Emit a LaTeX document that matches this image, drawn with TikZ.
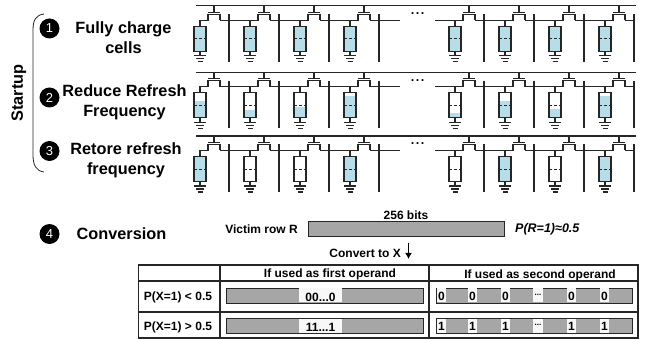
\documentclass[tikz,border=0pt]{standalone}
\usepackage{fontspec}
\usetikzlibrary{arrows.meta}
\setmainfont{Liberation Sans}
\definecolor{cellblue}{RGB}{183,221,232}
\definecolor{bargray}{RGB}{166,166,166}
\tikzset{
  wire/.style={line width=1.2pt,black!85},
  capbox/.style={line width=1.2pt,black!85},
  lab/.style={font=\bfseries\fontsize{16.3}{20}\selectfont,align=center,inner sep=0pt},
  small/.style={font=\bfseries\fontsize{12}{14}\selectfont,inner sep=0pt},
  bullet/.style={circle,fill=black,text=white,inner sep=0pt,minimum size=20pt,font=\fontsize{13}{13}\selectfont},
  bar/.style={draw=black!85,fill=bargray,line width=0.9pt},
  grid/.style={line width=1.1pt,black!85},
}
\newcommand{\rowcell}[3]{%
  \begin{scope}[shift={(#1,#2)}]
    \ifdim #3pt<25pt \fill[cellblue] (-6,{20.5+#3}) rectangle (6,45.5);\fi
    \draw[capbox] (-6,20.5) rectangle (6,45.5);
    \draw[wire,densely dashed,line width=0.9pt] (-6,33) -- (6,33);
    \draw[wire] (0,20.5) -- (0,14.5) -- (8,14.5) -- (8,8.5) -- (20,8.5) -- (20,14.5);
    \draw[wire] (8,6.5) -- (20,6.5);
    \draw[wire] (14,0) -- (14,6.5);
    \draw[wire] (29,8.5) -- (29,56);
    \draw[wire] (0,45.5) -- (0,50);
    \draw[wire] (-6,50) -- (6,50);
    \draw[wire] (-4,53) -- (4,53);
    \draw[wire] (-2.5,56) -- (2.5,56);
  \end{scope}}
\begin{document}
\begin{tikzpicture}[x=1pt,y=-1pt]
\useasboundingbox (0,0) rectangle (651,339);
\fill[white] (0,0) rectangle (651,339);
\foreach \ry/\a/\b/\c/\d/\e/\f/\g/\h in {
  5.7/0/0/0/0/0/0/0/0,
  72.2/8/17/14/3/20/8/16.5/3,
  136/0/99/99/0/99/0/99/0}{
  \draw[wire] (196,\ry) -- (635.5,\ry);
  \draw[wire] (220,\ry+14.5) -- (250,\ry+14.5);
  \draw[wire] (270,\ry+14.5) -- (300,\ry+14.5);
  \draw[wire] (320,\ry+14.5) -- (350,\ry+14.5);
  \draw[wire] (370,\ry+14.5) -- (400,\ry+14.5);
  \draw[wire] (435,\ry+14.5) -- (455,\ry+14.5);
  \draw[wire] (475,\ry+14.5) -- (505,\ry+14.5);
  \draw[wire] (525,\ry+14.5) -- (555,\ry+14.5);
  \draw[wire] (575,\ry+14.5) -- (605,\ry+14.5);
  \draw[wire] (625,\ry+14.5) -- (634.5,\ry+14.5);
  \node[inner sep=0pt,anchor=base,font=\fontsize{18}{18}\selectfont] (dots) at (417.5,\ry+9) {...};
  \rowcell{200}{\ry}{\a}
  \rowcell{250}{\ry}{\b}
  \rowcell{300}{\ry}{\c}
  \rowcell{350}{\ry}{\d}
  \rowcell{455}{\ry}{\e}
  \rowcell{505}{\ry}{\f}
  \rowcell{555}{\ry}{\g}
  \rowcell{605}{\ry}{\h}
}
\node[font=\bfseries\fontsize{16.3}{20}\selectfont,inner sep=0pt,rotate=90] (st) at (19,93) {Startup};
\draw[line width=0.8pt,black!85] (44,14) .. controls (36,15) and (33,20) .. (33,30) -- (33,155) .. controls (33,165) and (36,171) .. (44,172);
\node[bullet] (b1) at (49.5,28.5) {1};
\node[bullet] (b2) at (49.5,97.5) {2};
\node[bullet] (b3) at (49.5,151) {3};
\node[bullet] (b4) at (49.5,234) {4};
\node[lab] (t1) at (123.5,38) {Fully charge\\cells};
\node[lab] (t2) at (124.5,102) {Reduce Refresh\\Frequency};
\node[lab] (t3) at (126,160.5) {Retore refresh\\frequency};
\node[lab] (t4) at (121.5,234) {Conversion};
\node[small,anchor=east] (vr) at (298,229.5) {Victim row R};
\node[bar,minimum width=196pt,minimum height=15pt,inner sep=0pt] (vb) at (406,228.5) {};
\node[small] (bits) at (406,215.5) {256 bits};
\node[font=\bfseries\itshape\fontsize{12.5}{14}\selectfont,inner sep=0pt,anchor=west] (pr) at (515,229) {P(R=1)≈0.5};
\node[small,anchor=east] (cv) at (401,253) {Convert to X};
\coordinate (a0) at (408.5,243);
\coordinate (a1) at (408.5,259);
\draw[-{Latex[length=6pt,width=7pt]},line width=1.3pt] (a0) -- (a1);
\draw[grid] (138.5,265) rectangle (638,338);
\draw[grid] (138.5,281) -- (638,281);
\draw[grid] (138.5,312) -- (638,312);
\draw[grid] (220,265) -- (220,338);
\draw[grid] (429,265) -- (429,338);
\node[small] (h1) at (330,274.5) {If used as first operand};
\node[small] (h2) at (540,275) {If used as second operand};
\node[small] (p1) at (178,297.5) {P(X=1) < 0.5};
\node[small] (p2) at (178,327) {P(X=1) > 0.5};
\foreach \yy/\txt/\one in {288/{00...0}/0,318/{11...1}/1}{
  \draw[bar] (226,\yy) rectangle (423,\yy+15);
  \fill[white!92!bargray] (299,\yy+.5) rectangle (342,\yy+14.5);
  \node[small] at (320.5,\yy+9.5) {\txt};
  \draw[bar] (436,\yy) rectangle (632,\yy+15);
  \foreach \xx in {437,468,501,567,600}{
    \fill[white!92!bargray] (\xx,\yy+.5) rectangle (\xx+9,\yy+14.5);
    \node[small] at (\xx+4.5,\yy+8.5) {\one};
  }
  \fill[white!92!bargray] (533,\yy+.5) rectangle (543,\yy+14.5);
  \node[font=\bfseries\fontsize{8}{8}\selectfont,inner sep=0pt] at (538,\yy+7) {...};
}
\end{tikzpicture}
\end{document}
